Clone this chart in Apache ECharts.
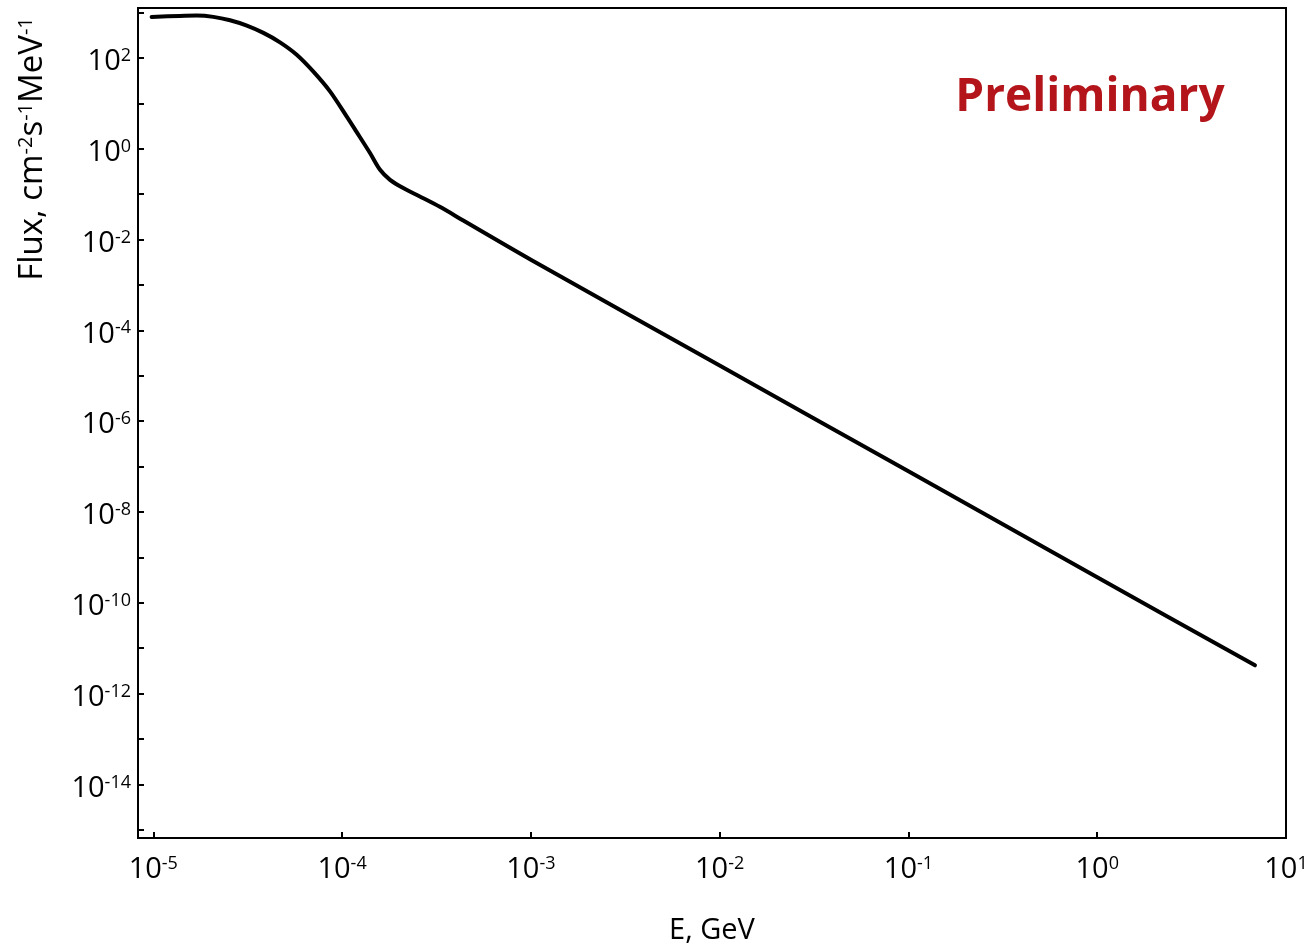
<!DOCTYPE html>
<html><head><meta charset="utf-8">
<script src="https://cdn.jsdelivr.net/npm/echarts@6/dist/echarts.min.js"></script>
<style>html,body{margin:0;padding:0;background:#fff}#c{width:1312px;height:946px}</style>
</head><body><div id="c"></div>
<script>
// Energy (GeV) and flux (cm^-2 s^-1 MeV^-1)
const energyGeV = [9.8e-6, 1.38e-5, 1.70e-5, 2.08e-5, 2.55e-5, 3.13e-5, 3.83e-5, 4.69e-5, 5.75e-5,
  7.03e-5, 8.63e-5, 1.057e-4, 1.191e-4, 1.406e-4, 1.589e-4, 1.795e-4, 2.109e-4, 2.582e-4, 3.296e-4,
  4.385e-4, 1e-3, 1e-2, 1e-1, 1, 6.85];
const fluxValues = [802, 843, 857, 802, 675, 515, 356, 221, 118,
  50.7, 18.4, 5.16, 2.38, 0.805, 0.344, 0.207, 0.136, 0.0889, 0.0525,
  0.0263, 3.6e-3, 1.68e-5, 7.85e-8, 3.66e-10, 4.2e-12];
// Axis ranges in decades (log10)
const xRangeDecades = [-5.081, 1];
const yRangeDecades = [-15.18, 3.10];
// Labelled tick exponents
const xLabelExponents = [-5, -4, -3, -2, -1, 0, 1];
const yLabelExponents = [2, 0, -2, -4, -6, -8, -10, -12, -14];
const xTitle = 'E, GeV';
const yTitleParts = ['Flux, cm', '-2', 's', '-1', 'MeV', '-1'];
const watermark = 'Preliminary';

const FONT = '"Open Sans", "DejaVu Sans", sans-serif';
const richLabel = {
  b: { fontSize: 29, lineHeight: 30, fontFamily: FONT, color: '#000' },
  s: { fontSize: 18, lineHeight: 21, fontFamily: FONT, color: '#000', verticalAlign: 'top' }
};
function expLabel(list) {
  return function (v) {
    const r = Math.round(v);
    if (Math.abs(v - r) > 1e-6 || list.indexOf(r) < 0) return '';
    return '{b|10}{s|' + r + '}';
  };
}
const seriesData = energyGeV.map((e, i) => [Math.log10(e), Math.log10(fluxValues[i])]);

let yTitleRich = '';
yTitleParts.forEach((p, i) => { yTitleRich += (i % 2 === 0 ? '{a|' : '{s|') + p + '}'; });

const chart = echarts.init(document.getElementById('c'), null, { renderer: 'canvas' });
chart.setOption({
  animation: false,
  backgroundColor: '#fff',
  grid: { left: 138, top: 8, right: 26, bottom: 108, containLabel: false, outerBoundsMode: 'none',
    show: true, borderColor: '#000', borderWidth: 2, backgroundColor: 'transparent' },
  xAxis: {
    type: 'value', min: xRangeDecades[0], max: xRangeDecades[1],
    splitNumber: 6, minInterval: 1, maxInterval: 1,
    axisLine: { show: true, onZero: false, lineStyle: { color: '#000', width: 2 } },
    axisTick: { show: true, inside: true, length: 6, lineStyle: { color: '#000', width: 2 } },
    splitLine: { show: false },
    axisLabel: { margin: 17, formatter: expLabel(xLabelExponents), rich: richLabel, showMinLabel: true, showMaxLabel: true, hideOverlap: false },
    name: xTitle, nameLocation: 'middle', nameGap: 78,
    nameTextStyle: { fontSize: 29, lineHeight: 30, fontFamily: FONT, color: '#000' }
  },
  yAxis: {
    type: 'value', min: yRangeDecades[0], max: yRangeDecades[1],
    splitNumber: 18, minInterval: 1, maxInterval: 1,
    axisLine: { show: true, onZero: false, lineStyle: { color: '#000', width: 2 } },
    axisTick: { show: true, inside: true, length: 6, lineStyle: { color: '#000', width: 2 } },
    splitLine: { show: false },
    axisLabel: { margin: 7, padding: [8, 0, 0, 0], formatter: expLabel(yLabelExponents), rich: richLabel, showMinLabel: true, showMaxLabel: true, hideOverlap: false }
  },
  series: [{
    type: 'line', data: seriesData, smooth: 0.3, showSymbol: false, symbol: 'none',
    lineStyle: { color: '#000', width: 4, cap: 'round', join: 'round' }
  }],
  graphic: [
    {
      type: 'text', x: 33, y: 149, rotation: Math.PI / 2,
      style: {
        text: yTitleRich, align: 'center', verticalAlign: 'middle',
        rich: {
          a: { fontSize: 33, lineHeight: 34, fontFamily: FONT, fill: '#000' },
          s: { fontSize: 20, lineHeight: 24, fontFamily: FONT, fill: '#000', verticalAlign: 'top' }
        }
      }
    },
    {
      type: 'text', x: 1090, y: 98,
      style: {
        text: watermark, align: 'center', verticalAlign: 'middle',
        font: 'bold 46px ' + FONT,
        fill: '#b3151b'
      }
    }
  ]
});
</script></body></html>
